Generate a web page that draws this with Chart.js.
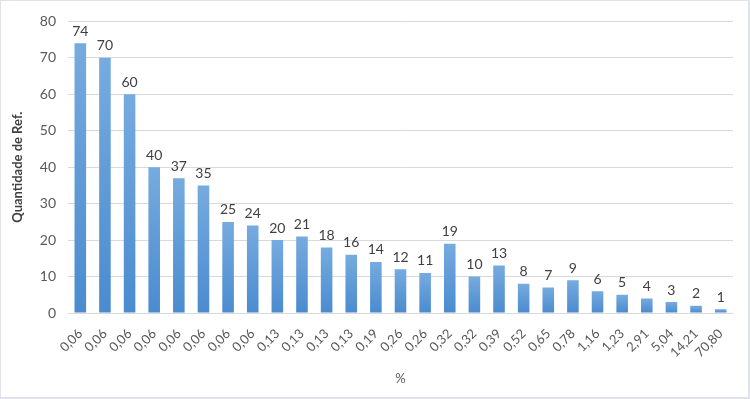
<!DOCTYPE html>
<html>
<head>
<meta charset="utf-8">
<script src="https://cdn.jsdelivr.net/npm/chart.js@4"></script>
<style>
  html, body { margin:0; padding:0; background:#ffffff; }
  #wrap { position:absolute; left:0; top:0; width:747px; height:396px; border:1px solid #dfe2e8; border-width:1px 2px 2px 1px; background:#fff; }
  canvas { display:block; }
</style>
</head>
<body>
<div id="wrap"><canvas id="c" width="747" height="396"></canvas></div>
<script>
const categories = ["0,06","0,06","0,06","0,06","0,06","0,06","0,06","0,06","0,13","0,13","0,13","0,13","0,19","0,26","0,26","0,32","0,32","0,39","0,52","0,65","0,78","1,16","1,23","2,91","5,04","14,21","70,80"];
const counts = [74,70,60,40,37,35,25,24,20,21,18,16,14,12,11,19,10,13,8,7,9,6,5,4,3,2,1];
const yTicks = [0,10,20,30,40,50,60,70,80];
const yTitle = "Quantidade de Ref.";
const xTitle = "%";

const FONT = "Lato, 'Open Sans', 'Liberation Sans', sans-serif";

const labelPlugin = {
  id: 'barLabels',
  afterDatasetsDraw(chart) {
    const ctx = chart.ctx;
    const meta = chart.getDatasetMeta(0);
    ctx.save();
    ctx.font = "14px " + FONT;
    ctx.fillStyle = "#404040";
    ctx.textAlign = "center";
    ctx.textBaseline = "bottom";
    meta.data.forEach((el, i) => {
      ctx.fillText(String(chart.data.datasets[0].data[i]), el.x, el.y - 5);
    });
    ctx.restore();
  }
};

function barGradient(context) {
  const chart = context.chart;
  if (!chart.chartArea || context.type !== 'data') return '#5b9bd5';
  const ys = chart.scales.y;
  const top = ys.getPixelForValue(context.raw);
  const base = ys.getPixelForValue(0);
  const g = chart.ctx.createLinearGradient(0, top, 0, Math.max(base, top + 1));
  g.addColorStop(0, '#76abdf');
  g.addColorStop(1, '#4a8bcf');
  return g;
}

new Chart(document.getElementById('c'), {
  type: 'bar',
  data: {
    labels: categories,
    datasets: [{
      data: counts,
      backgroundColor: barGradient,
      borderWidth: 0,
      categoryPercentage: 1.0,
      barPercentage: 0.47
    }]
  },
  options: {
    responsive: false,
    animation: false,
    devicePixelRatio: 1,
    layout: { padding: { left: 0, top: 7, right: 15, bottom: 10 } },
    plugins: { legend: { display: false }, tooltip: { enabled: false } },
    scales: {
      x: {
        grid: { display: false },
        border: { display: false },
        ticks: {
          color: '#595959',
          font: { family: FONT, size: 13 },
          minRotation: 45, maxRotation: 45,
          autoSkip: false,
          padding: 5
        },
        title: {
          display: true, text: xTitle, color: '#595959',
          font: { family: FONT, size: 13 },
          padding: { top: 4, bottom: 0 }
        },
        afterFit(scale) { scale.height = 74; }
      },
      y: {
        min: 0, max: 80,
        afterBuildTicks(scale) { scale.ticks = yTicks.map(v => ({ value: v })); },
        grid: { color: '#d9d9d9', drawTicks: false },
        border: { display: false },
        ticks: {
          color: '#595959',
          font: { family: FONT, size: 14 },
          padding: 12
        },
        title: {
          display: true, text: yTitle, color: '#404040',
          font: { family: FONT, size: 13, weight: 'bold' },
          padding: { top: 9, bottom: 0 }
        },
        afterFit(scale) { scale.width = 67; }
      }
    }
  },
  plugins: [labelPlugin]
});
</script>
</body>
</html>
